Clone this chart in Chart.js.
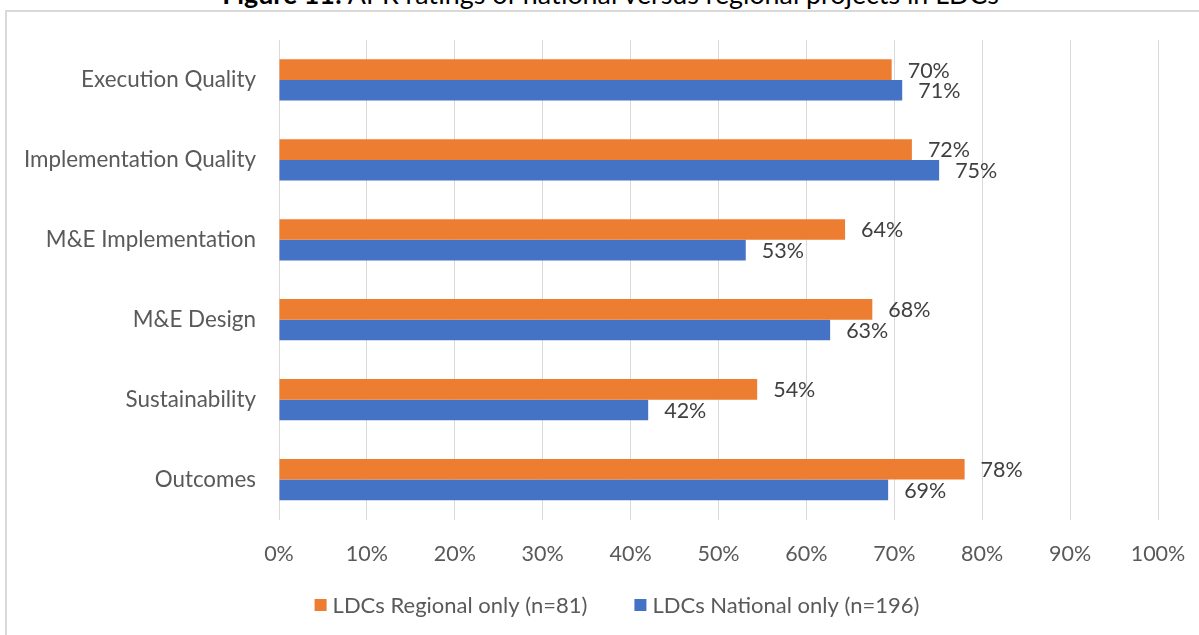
<!DOCTYPE html>
<html>
<head>
<meta charset="utf-8">
<script src="https://cdn.jsdelivr.net/npm/chart.js@4.4.1/dist/chart.umd.min.js"></script>
<style>
  html, body { margin: 0; padding: 0; background: #fff; overflow: hidden; }
  #wrap { position: relative; width: 1199px; height: 635px; overflow: hidden; }
  #frame { position: absolute; left: 5px; top: 10px; width: 1300px; height: 700px; border: 2px solid #d9d9d9; box-sizing: border-box; }
  #title { position: absolute; left: 0; top: -19px; width: 1221px; text-align: center; font-family: Lato, sans-serif; font-size: 26.8px; line-height: 26.8px; color: #000; white-space: nowrap; }
  #c { position: absolute; left: 0; top: 0; }
</style>
</head>
<body>
<div id="wrap">
  <div id="frame"></div>
  <div id="title"><b>Figure 11:</b> APR ratings of national versus regional projects in LDCs</div>
  <canvas id="c" width="1199" height="635"></canvas>
</div>
<script>
const categories = ['Execution Quality', 'Implementation Quality', 'M&E Implementation', 'M&E Design', 'Sustainability', 'Outcomes'];
const regionalValues = [69.7, 72.0, 64.4, 67.5, 54.4, 78.0];
const nationalValues = [70.9, 75.1, 53.1, 62.7, 42.0, 69.3];
const seriesNames = ['LDCs Regional only (n=81)', 'LDCs National only (n=196)'];
const xTickValues = [0, 10, 20, 30, 40, 50, 60, 70, 80, 90, 100];

const FONT = 'Lato, sans-serif';

const valueLabels = {
  id: 'valueLabels',
  afterDatasetsDraw(chart) {
    const ctx = chart.ctx;
    ctx.save();
    ctx.font = '21.5px ' + FONT;
    ctx.fillStyle = '#404040';
    ctx.textAlign = 'left';
    ctx.textBaseline = 'middle';
    chart.data.datasets.forEach((ds, i) => {
      const meta = chart.getDatasetMeta(i);
      meta.data.forEach((bar, j) => {
        ctx.fillText(Math.round(ds.data[j]) + '%', bar.x + 16, bar.y + 1);
      });
    });
    ctx.restore();
  }
};

const bottomLegend = {
  id: 'bottomLegend',
  afterDraw(chart) {
    const ctx = chart.ctx;
    ctx.save();
    ctx.font = '22px ' + FONT;
    ctx.textBaseline = 'middle';
    ctx.textAlign = 'left';
    const box = 12, gapText = 6, gapItem = 47;
    const items = chart.data.datasets.map(ds => ({ label: ds.label, color: ds.backgroundColor, w: ctx.measureText(ds.label).width }));
    let total = 0;
    items.forEach((it, k) => { total += box + gapText + it.w + (k < items.length - 1 ? gapItem : 0); });
    let x = 617 - total / 2;
    const y = 605;
    items.forEach(it => {
      ctx.fillStyle = it.color;
      ctx.fillRect(x, y - box / 2, box, box);
      x += box + gapText;
      ctx.fillStyle = '#595959';
      ctx.fillText(it.label, x, y + 1);
      x += it.w + gapItem;
    });
    ctx.restore();
  }
};

new Chart(document.getElementById('c'), {
  type: 'bar',
  data: {
    labels: categories,
    datasets: [
      { label: seriesNames[0], data: regionalValues, backgroundColor: '#ED7D31', borderWidth: 0, categoryPercentage: 0.517, barPercentage: 1.0 },
      { label: seriesNames[1], data: nationalValues, backgroundColor: '#4472C4', borderWidth: 0, categoryPercentage: 0.517, barPercentage: 1.0 }
    ]
  },
  options: {
    indexAxis: 'y',
    responsive: false,
    animation: false,
    layout: { padding: { top: 40, right: 41, bottom: 65.5, left: 0 } },
    plugins: {
      legend: { display: false },
      tooltip: { enabled: false },
      title: { display: false }
    },
    scales: {
      x: {
        min: 0, max: 100,
        afterBuildTicks(scale) { scale.ticks = xTickValues.map(v => ({ value: v })); },
        afterFit(scale) { scale.height = 50; scale.paddingRight = 0; scale.paddingLeft = 0; },
        ticks: { callback: v => v + '%', font: { family: FONT, size: 21.5 }, color: '#595959', padding: 22, maxRotation: 0 },
        grid: { color: '#d9d9d9', lineWidth: 1, drawTicks: false },
        border: { display: false }
      },
      y: {
        afterFit(scale) { scale.width = 279; },
        ticks: { font: { family: FONT, size: 22.4 }, color: '#595959', padding: 23 },
        grid: { display: false, drawTicks: false },
        border: { display: false }
      }
    }
  },
  plugins: [valueLabels, bottomLegend]
});
</script>
</body>
</html>
